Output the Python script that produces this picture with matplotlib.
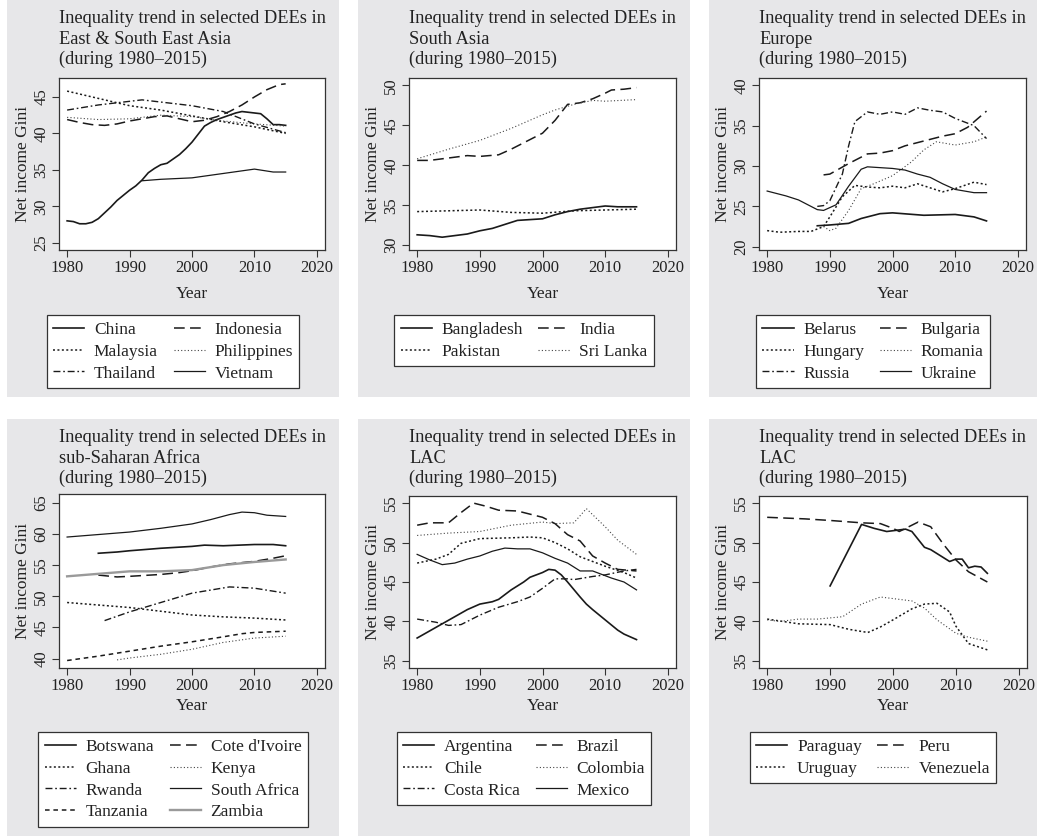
import numpy as np
import matplotlib
matplotlib.use('Agg')
import matplotlib.pyplot as plt
from matplotlib.patches import Rectangle

plt.rcParams['font.family'] = ['Liberation Serif', 'DejaVu Serif']

# ---- data ----
# East & South East Asia
china_yr = [1980, 1981, 1982, 1983, 1984, 1985, 1986, 1987, 1988, 1989, 1990, 1991, 1992, 1993, 1994, 1995, 1996, 1997,
            1998, 1999, 2000, 2001, 2002, 2003, 2004, 2005, 2006, 2007, 2008, 2009, 2010, 2011, 2012, 2013, 2014, 2015]
china = [28.0, 27.9, 27.6, 27.6, 27.8, 28.3, 29.1, 29.9, 30.8, 31.5, 32.2, 32.8, 33.6, 34.6, 35.2, 35.7, 35.9, 36.5,
         37.1, 37.9, 38.8, 39.9, 41.0, 41.5, 41.9, 42.2, 42.5, 42.8, 43.0, 42.9, 42.8, 42.7, 42.0, 41.2, 41.2, 41.1]
indonesia_yr = [1980, 1982, 1984, 1986, 1988, 1990, 1992, 1994, 1996, 1998, 2000, 2002, 2004, 2006, 2008, 2010, 2012, 2014, 2015]
indonesia = [41.9, 41.5, 41.2, 41.1, 41.3, 41.7, 42.0, 42.3, 42.4, 42.0, 41.6, 41.8, 42.3, 43.0, 43.9, 45.0, 46.0, 46.7, 46.8]
malaysia_yr = [1980, 1985, 1990, 1995, 2000, 2005, 2010, 2015]
malaysia = [45.8, 44.8, 43.8, 43.2, 42.4, 41.6, 40.9, 40.0]
philippines_yr = [1980, 1985, 1990, 1995, 2000, 2005, 2010, 2015]
philippines = [42.2, 41.9, 42.0, 42.5, 42.3, 41.7, 41.3, 41.0]
thailand_yr = [1980, 1985, 1990, 1992, 1995, 2000, 2005, 2010, 2015]
thailand = [43.2, 43.9, 44.4, 44.6, 44.3, 43.8, 43.0, 41.3, 40.1]
vietnam_yr = [1992, 1995, 2000, 2005, 2010, 2013, 2015]
vietnam = [33.5, 33.7, 33.9, 34.5, 35.1, 34.7, 34.7]

# South Asia
bangladesh_yr = [1980, 1982, 1984, 1986, 1988, 1990, 1992, 1994, 1996, 1998, 2000, 2002, 2004, 2006, 2008, 2010, 2012, 2015]
bangladesh = [31.3, 31.2, 31.0, 31.2, 31.4, 31.8, 32.1, 32.6, 33.1, 33.2, 33.3, 33.8, 34.2, 34.5, 34.7, 34.9, 34.8, 34.8]
india_yr = [1980, 1982, 1985, 1988, 1990, 1993, 1995, 1998, 2000, 2002, 2004, 2006, 2008, 2010, 2011, 2013, 2015]
india = [40.6, 40.6, 40.9, 41.2, 41.1, 41.3, 42.0, 43.2, 44.0, 45.6, 47.6, 47.8, 48.3, 49.0, 49.4, 49.5, 49.7]
pakistan_yr = [1980, 1985, 1990, 1995, 2000, 2005, 2010, 2015]
pakistan = [34.2, 34.3, 34.4, 34.1, 34.0, 34.3, 34.4, 34.5]
srilanka_yr = [1980, 1985, 1990, 1995, 2000, 2002, 2005, 2008, 2010, 2015]
srilanka = [40.8, 42.0, 43.1, 44.6, 46.3, 46.9, 47.6, 48.1, 48.0, 48.2]

# Europe
belarus_yr = [1988, 1990, 1993, 1995, 1998, 2000, 2005, 2010, 2013, 2015]
belarus = [22.6, 22.7, 22.9, 23.5, 24.1, 24.2, 23.9, 24.0, 23.7, 23.2]
bulgaria_yr = [1989, 1990, 1993, 1996, 1998, 2000, 2002, 2005, 2008, 2010, 2012, 2015]
bulgaria = [28.9, 29.0, 30.3, 31.5, 31.6, 31.9, 32.5, 33.1, 33.7, 34.0, 34.8, 36.8]
hungary_yr = [1980, 1982, 1985, 1987, 1989, 1990, 1992, 1994, 1996, 1998, 2000, 2002, 2004, 2006, 2008, 2010, 2013, 2015]
hungary = [22.0, 21.8, 21.9, 21.9, 22.5, 23.7, 26.2, 27.6, 27.4, 27.3, 27.5, 27.3, 27.8, 27.3, 26.8, 27.2, 28.0, 27.7]
romania_yr = [1989, 1990, 1991, 1993, 1995, 1997, 2000, 2003, 2005, 2007, 2010, 2013, 2015]
romania = [22.5, 22.0, 22.3, 24.5, 27.2, 27.8, 28.8, 30.5, 32.0, 33.0, 32.6, 33.0, 33.6]
russia_yr = [1988, 1989, 1990, 1992, 1993, 1994, 1996, 1998, 2000, 2002, 2004, 2006, 2008, 2010, 2013, 2015]
russia = [25.0, 25.1, 25.7, 29.0, 32.5, 35.5, 36.7, 36.4, 36.7, 36.4, 37.2, 36.9, 36.7, 35.9, 35.0, 33.4]
ukraine_yr = [1980, 1983, 1985, 1988, 1989, 1991, 1993, 1995, 1996, 1998, 2000, 2002, 2004, 2006, 2008, 2010, 2013, 2015]
ukraine = [26.9, 26.3, 25.8, 24.6, 24.5, 25.2, 27.5, 29.6, 29.9, 29.8, 29.7, 29.5, 29.0, 28.6, 27.8, 27.1, 26.7, 26.7]

# sub-Saharan Africa
botswana_yr = [1985, 1988, 1990, 1995, 2000, 2002, 2005, 2010, 2013, 2015]
botswana = [56.9, 57.1, 57.3, 57.7, 58.0, 58.2, 58.1, 58.3, 58.3, 58.1]
cotedivoire_yr = [1985, 1988, 1990, 1995, 1998, 2000, 2003, 2006, 2010, 2013, 2015]
cotedivoire = [53.4, 53.1, 53.2, 53.5, 53.8, 54.1, 54.7, 55.2, 55.6, 56.1, 56.5]
ghana_yr = [1980, 1985, 1990, 1995, 2000, 2005, 2010, 2015]
ghana = [49.0, 48.6, 48.2, 47.6, 47.0, 46.7, 46.5, 46.2]
kenya_yr = [1988, 1990, 1995, 2000, 2005, 2010, 2015]
kenya = [39.8, 40.1, 40.7, 41.5, 42.6, 43.3, 43.6]
rwanda_yr = [1986, 1990, 1995, 2000, 2003, 2006, 2010, 2015]
rwanda = [46.1, 47.5, 49.0, 50.5, 51.0, 51.5, 51.3, 50.5]
southafrica_yr = [1980, 1985, 1990, 1995, 2000, 2003, 2006, 2008, 2010, 2012, 2015]
southafrica = [59.5, 59.9, 60.3, 60.9, 61.6, 62.3, 63.1, 63.5, 63.4, 63.0, 62.8]
tanzania_yr = [1980, 1985, 1990, 1995, 2000, 2005, 2008, 2010, 2015]
tanzania = [39.7, 40.4, 41.2, 42.0, 42.7, 43.5, 44.0, 44.2, 44.4]
zambia_yr = [1980, 1985, 1990, 1995, 2000, 2005, 2010, 2015]
zambia = [53.2, 53.6, 54.0, 54.0, 54.2, 55.0, 55.5, 55.9]

# LAC
argentina_yr = [1980, 1982, 1984, 1986, 1988, 1990, 1992, 1993, 1995, 1997, 1998, 2000, 2001, 2002, 2003, 2004, 2006,
                2007, 2008, 2010, 2012, 2013, 2015]
argentina = [37.9, 38.8, 39.7, 40.6, 41.5, 42.2, 42.5, 42.8, 44.0, 45.0, 45.6, 46.2, 46.6, 46.5, 45.9, 45.0, 43.1,
             42.2, 41.5, 40.2, 38.9, 38.4, 37.7]
brazil_yr = [1980, 1982, 1985, 1987, 1989, 1991, 1993, 1996, 1998, 2000, 2002, 2004, 2006, 2008, 2010, 2012, 2015]
brazil = [52.2, 52.5, 52.5, 53.8, 55.0, 54.6, 54.1, 54.0, 53.6, 53.2, 52.4, 51.0, 50.2, 48.3, 47.4, 46.6, 46.4]
chile_yr = [1980, 1983, 1985, 1987, 1990, 1995, 1998, 2000, 2002, 2004, 2006, 2010, 2013, 2015]
chile = [47.4, 47.9, 48.5, 49.9, 50.5, 50.6, 50.7, 50.6, 50.0, 49.2, 48.2, 47.0, 46.2, 45.5]
colombia_yr = [1980, 1985, 1990, 1995, 2000, 2002, 2005, 2007, 2010, 2012, 2015]
colombia = [50.9, 51.2, 51.4, 52.2, 52.6, 52.4, 52.5, 54.3, 52.0, 50.3, 48.5]
costarica_yr = [1980, 1983, 1985, 1987, 1990, 1993, 1996, 1998, 2000, 2002, 2004, 2005, 2008, 2010, 2013, 2015]
costarica = [40.3, 39.9, 39.5, 39.6, 40.8, 41.8, 42.5, 43.1, 44.2, 45.4, 45.4, 45.3, 45.7, 45.9, 46.4, 46.6]
mexico_yr = [1980, 1982, 1984, 1986, 1988, 1990, 1992, 1994, 1996, 1998, 2000, 2002, 2004, 2006, 2008, 2010, 2011, 2013, 2015]
mexico = [48.5, 47.8, 47.2, 47.4, 47.9, 48.3, 48.9, 49.3, 49.2, 49.2, 48.7, 48.0, 47.4, 46.4, 46.4, 45.8, 45.5, 45.0, 44.0]

paraguay_yr = [1990, 1995, 1997, 1999, 2001, 2002, 2003, 2005, 2006, 2008, 2009, 2010, 2011, 2012, 2013, 2014, 2015]
paraguay = [44.5, 52.3, 51.8, 51.4, 51.6, 51.7, 51.4, 49.4, 49.1, 48.1, 47.6, 47.9, 47.9, 46.8, 47.0, 46.9, 46.1]
peru_yr = [1980, 1983, 1986, 1990, 1995, 1998, 2000, 2001, 2002, 2004, 2006, 2008, 2010, 2012, 2015]
peru = [53.2, 53.1, 53.0, 52.8, 52.5, 52.4, 51.8, 51.4, 51.8, 52.6, 52.0, 49.8, 47.8, 46.3, 45.0]
uruguay_yr = [1980, 1985, 1990, 1993, 1996, 1998, 2000, 2003, 2005, 2007, 2009, 2010, 2012, 2015]
uruguay = [40.3, 39.7, 39.6, 39.0, 38.6, 39.3, 40.2, 41.6, 42.2, 42.3, 41.2, 39.4, 37.2, 36.4]
venezuela_yr = [1980, 1982, 1985, 1988, 1992, 1995, 1998, 2000, 2003, 2005, 2007, 2010, 2012, 2015]
venezuela = [40.2, 40.0, 40.3, 40.3, 40.6, 42.2, 43.1, 42.9, 42.6, 41.7, 40.2, 38.5, 38.0, 37.5]

# line styles
SOLID = dict(ls='-', lw=1.2, color='#1a1a1a')
THIN = dict(ls='-', lw=0.9, color='#1a1a1a')
LDASH = dict(ls=(0, (7, 3.5)), lw=1.1, color='#1a1a1a')
DOT = dict(ls=(0, (1.3, 1.6)), lw=1.1, color='#1a1a1a')
FDOT = dict(ls=(0, (1, 2)), lw=0.8, color='#444444')
DASHDOT = dict(ls=(0, (5, 2, 1.2, 2)), lw=1.0, color='#1a1a1a')
SDASH = dict(ls=(0, (3, 2.5)), lw=1.1, color='#1a1a1a')
GRAY = dict(ls='-', lw=1.7, color='#9a9a9a')

panels = [
    dict(region='East & South East Asia', ylim=(24.0, 47.6), yt=[25, 30, 35, 40, 45],
         series=[('China', china_yr, china, SOLID), ('Indonesia', indonesia_yr, indonesia, LDASH),
                 ('Malaysia', malaysia_yr, malaysia, DOT), ('Philippines', philippines_yr, philippines, FDOT),
                 ('Thailand', thailand_yr, thailand, DASHDOT), ('Vietnam', vietnam_yr, vietnam, THIN)]),
    dict(region='South Asia', ylim=(29.4, 50.9), yt=[30, 35, 40, 45, 50],
         series=[('Bangladesh', bangladesh_yr, bangladesh, SOLID), ('India', india_yr, india, LDASH),
                 ('Pakistan', pakistan_yr, pakistan, DOT), ('Sri Lanka', srilanka_yr, srilanka, FDOT)]),
    dict(region='Europe', ylim=(19.6, 40.9), yt=[20, 25, 30, 35, 40],
         series=[('Belarus', belarus_yr, belarus, SOLID), ('Bulgaria', bulgaria_yr, bulgaria, LDASH),
                 ('Hungary', hungary_yr, hungary, DOT), ('Romania', romania_yr, romania, FDOT),
                 ('Russia', russia_yr, russia, DASHDOT), ('Ukraine', ukraine_yr, ukraine, THIN)]),
    dict(region='sub-Saharan Africa', ylim=(38.5, 66.4), yt=[40, 45, 50, 55, 60, 65],
         series=[('Botswana', botswana_yr, botswana, SOLID), ("Cote d'Ivoire", cotedivoire_yr, cotedivoire, LDASH),
                 ('Ghana', ghana_yr, ghana, DOT), ('Kenya', kenya_yr, kenya, FDOT),
                 ('Rwanda', rwanda_yr, rwanda, DASHDOT), ('South Africa', southafrica_yr, southafrica, THIN),
                 ('Tanzania', tanzania_yr, tanzania, SDASH), ('Zambia', zambia_yr, zambia, GRAY)]),
    dict(region='LAC', ylim=(34.1, 55.9), yt=[35, 40, 45, 50, 55],
         series=[('Argentina', argentina_yr, argentina, SOLID), ('Brazil', brazil_yr, brazil, LDASH),
                 ('Chile', chile_yr, chile, DOT), ('Colombia', colombia_yr, colombia, FDOT),
                 ('Costa Rica', costarica_yr, costarica, DASHDOT), ('Mexico', mexico_yr, mexico, THIN)]),
    dict(region='LAC', ylim=(34.1, 55.9), yt=[35, 40, 45, 50, 55],
         series=[('Paraguay', paraguay_yr, paraguay, SOLID), ('Peru', peru_yr, peru, LDASH),
                 ('Uruguay', uruguay_yr, uruguay, DOT), ('Venezuela', venezuela_yr, venezuela, FDOT)]),
]

W, H = 1037, 836
fig = plt.figure(figsize=(W / 100, H / 100), dpi=100)
fig.patch.set_facecolor('white')

# pixel layout: panel backgrounds and plot boxes
cols = [(7, 339), (358, 690), (709, 1037)]
rows = [(0, 397), (419, 836)]
boxes = [(59, 325, 78, 250), (409, 676, 78, 250), (759, 1026, 78, 250),
         (59, 325, 494, 668), (409, 676, 496, 668), (759, 1027, 496, 668)]
legend_top = [315, 315, 315, 732, 732, 732]

FS = 12.5    # axis labels / legend
TTL = 13.2   # titles
TFS = 12     # tick labels
for i, p in enumerate(panels):
    c0, c1 = cols[i % 3]
    r0, r1 = rows[i // 3]
    fig.patches.append(Rectangle((c0 / W, 1 - r1 / H), (c1 - c0) / W, (r1 - r0) / H,
                                 transform=fig.transFigure, facecolor='#e7e7e9', edgecolor='none', zorder=-5))
    l, r, t, b = boxes[i]
    ax = fig.add_axes([l / W, 1 - b / H, (r - l) / W, (b - t) / H])
    ax.set_facecolor('white')

    handles = []
    for name, yrs, vals, st in p['series']:
        h, = ax.plot(yrs, vals, label=name, **st)
        handles.append(h)

    ax.set_xlim(1978.7, 2021.3)
    ax.set_ylim(*p['ylim'])
    ax.set_xticks([1980, 1990, 2000, 2010, 2020])
    ax.set_yticks(p['yt'])
    ax.tick_params(direction='out', length=5, width=0.8, color='#333333', labelsize=TFS, pad=2,
                   labelcolor='#222222')
    for lab in ax.get_yticklabels():
        lab.set_rotation(90)
        lab.set_va('center')
    for s in ax.spines.values():
        s.set_color('#333333')
        s.set_linewidth(0.9)

    ax.set_xlabel('Year', fontsize=FS, color='#222222')
    ax.xaxis.set_label_coords(0.5, -(36 if i < 3 else 30) / (b - t))
    ax.set_ylabel('Net income Gini', fontsize=FS, color='#222222')
    ax.yaxis.set_label_coords(-28 / (r - l), 0.5)

    # title, three lines
    fig.text(l / W, 1 - (r0 + 10) / H,
             'Inequality trend in selected DEEs in\n' + p['region'] + '\n(during 1980\u20132015)',
             ha='left', va='top', fontsize=TTL, linespacing=1.27, color='#222222')

    # legend filled row-wise
    order = list(range(0, len(handles), 2)) + list(range(1, len(handles), 2))
    leg = fig.legend([handles[k] for k in order], [handles[k].get_label() for k in order],
                     ncol=2, loc='upper center', bbox_to_anchor=((c0 + c1) / 2 / W, 1 - legend_top[i] / H),
                     borderaxespad=0, fontsize=FS, frameon=True, fancybox=False, framealpha=1,
                     handlelength=1.8, handletextpad=0.55, columnspacing=0.9, labelspacing=0.33, borderpad=0.38)
    leg.get_frame().set_edgecolor('#333333')
    leg.get_frame().set_linewidth(0.9)
    for txt in leg.get_texts():
        txt.set_color('#222222')

fig.savefig('out.png', dpi=100)
